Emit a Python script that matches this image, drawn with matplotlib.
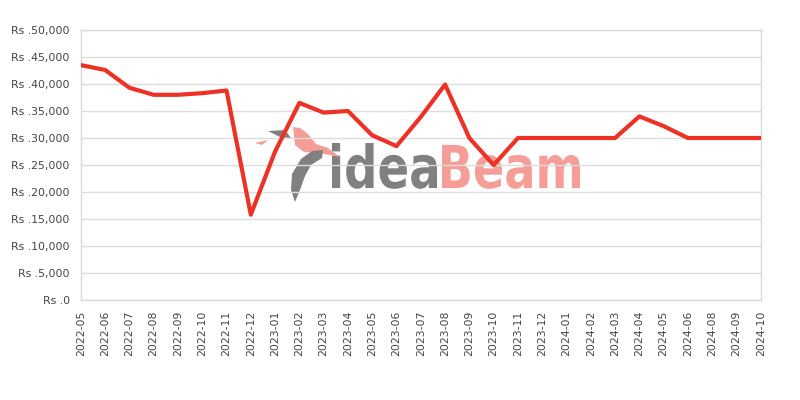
import numpy as np
from matplotlib import pyplot as plt
from matplotlib.textpath import TextPath
from matplotlib.font_manager import FontProperties
from matplotlib.patches import PathPatch, Polygon
from matplotlib.transforms import Affine2D, IdentityTransform

# 月份与价格
months = ['2022-05', '2022-06', '2022-07', '2022-08', '2022-09', '2022-10', '2022-11', '2022-12',
          '2023-01', '2023-02', '2023-03', '2023-04', '2023-05', '2023-06', '2023-07', '2023-08',
          '2023-09', '2023-10', '2023-11', '2023-12', '2024-01', '2024-02', '2024-03', '2024-04',
          '2024-05', '2024-06', '2024-08', '2024-09', '2024-10']
prices = [43500, 42600, 39300, 38000, 38000, 38300, 38800, 15800,
          27500, 36500, 34700, 35000, 30500, 28500, 33900, 39900,
          30000, 25000, 30000, 30000, 30000, 30000, 30000, 34000,
          32200, 30000, 30000, 30000, 30000]
yticks = [0, 5000, 10000, 15000, 20000, 25000, 30000, 35000, 40000, 45000, 50000]
ylabels = ['Rs .0', 'Rs .5,000', 'Rs .10,000', 'Rs .15,000', 'Rs .20,000', 'Rs .25,000',
           'Rs .30,000', 'Rs .35,000', 'Rs .40,000', 'Rs .45,000', 'Rs .50,000']

H = 400  # 图片高度(像素)

fig = plt.figure(figsize=(8, 4), dpi=100)
ax = fig.add_axes([0.101, 0.25, 0.85, 0.675])

x = np.arange(len(months))
ax.plot(x, prices, color='#ee3124', linewidth=3.0, zorder=5)

ax.set_xlim(0, len(months) - 1)
ax.set_ylim(0, 50000)
ax.set_xticks(x)
ax.set_xticklabels(months, rotation=90, fontsize=7.8, color='#444444')
ax.set_yticks(yticks)
ax.set_yticklabels(ylabels, fontsize=7.8, color='#444444')
ax.tick_params(axis='x', length=0, pad=8)
ax.tick_params(axis='y', length=0, pad=8)
ax.grid(axis='y', color='#dddddd', linewidth=1)
for s in ax.spines.values():
    s.set_color('#d9d9d9')
    s.set_linewidth(1)


# 水印 ideaBeam (像素坐标)
def add_word(word, left, right, top, base, color):
    tp = TextPath((0, 0), word, size=100, prop=FontProperties(family='DejaVu Sans', weight='bold'))
    bb = tp.get_extents()
    sx = (right - left) / bb.width
    sy = (base - top) / bb.y1
    tr = Affine2D().scale(sx, sy).translate(left - bb.x0 * sx, H - base)
    ax.add_patch(PathPatch(tr.transform_path(tp), facecolor=color, edgecolor='none',
                           transform=IdentityTransform(), zorder=1, clip_on=False))


add_word('idea', 332, 437, 143, 188, '#808080')
add_word('Beam', 442, 580, 145, 188, '#f59d96')

bird_pink = [(293, 127), (300, 128), (308, 134), (316, 144), (328, 148), (340, 157),
             (330, 155), (318, 153), (304, 152), (295, 145)]
dart_pink = [(255, 143), (268, 140), (262, 145)]
wing_gray = [(268, 131), (285, 130), (291, 138), (280, 137)]
feather = [(323, 150), (312, 151), (301, 159), (292, 174), (291, 190), (295, 202),
           (300, 190), (305, 176), (311, 165), (322, 158)]
for pts, c in [(bird_pink, '#f59d96'), (dart_pink, '#f59d96'), (wing_gray, '#808080'), (feather, '#808080')]:
    ax.add_patch(Polygon([(px, H - py) for px, py in pts], closed=True, facecolor=c,
                         edgecolor='none', transform=IdentityTransform(), zorder=1, clip_on=False))

fig.savefig('out.png', dpi=100)
